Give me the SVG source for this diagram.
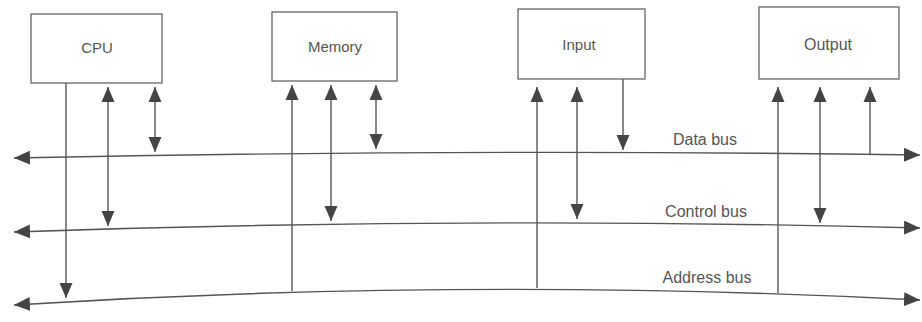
<svg xmlns="http://www.w3.org/2000/svg" width="922" height="322" viewBox="0 0 922 322">
<defs>
<marker id="ah" markerUnits="userSpaceOnUse" markerWidth="17" markerHeight="14" refX="16" refY="7" orient="auto-start-reverse" viewBox="0 0 17 14">
<path d="M0,0 L16,7 L0,14 z" fill="#444"/>
</marker>
<marker id="vh" markerUnits="userSpaceOnUse" markerWidth="15" markerHeight="14" refX="15" refY="6.5" orient="auto-start-reverse" viewBox="0 0 15 13">
<path d="M0,0 L15,6.5 L0,13 z" fill="#444"/>
</marker>
<style>
.box{fill:#fff;stroke:#666;stroke-width:1.3}
.lbl{font-family:"Liberation Sans",Arial,sans-serif;font-size:15px;fill:#555;text-anchor:middle}
.bl{font-family:"Liberation Sans",Arial,sans-serif;font-size:16px;fill:#555;text-anchor:middle}
.ln{stroke:#555;stroke-width:1.4;fill:none}
</style>
</defs>
<rect width="922" height="322" fill="#fff"/>
<g id="cpu"><rect class="box" x="31" y="14" width="131" height="69"/><text class="lbl" x="97" y="53">CPU</text></g>
<g id="memory"><rect class="box" x="272" y="12" width="125" height="69"/><text class="lbl" x="335" y="52">Memory</text></g>
<g id="input"><rect class="box" x="518" y="9" width="127" height="70"/><text class="lbl" x="579" y="50">Input</text></g>
<g id="output"><rect class="box" x="759" y="7" width="140" height="72"/><text class="bl" x="828" y="50">Output</text></g>
<g id="buses">
<path class="ln" d="M14,158 Q467,148.5 920,155" marker-start="url(#ah)" marker-end="url(#ah)"/>
<path class="ln" d="M14,232 Q467,216 920,228" marker-start="url(#ah)" marker-end="url(#ah)"/>
<path class="ln" d="M14,305 Q467,276.5 920,300" marker-start="url(#ah)" marker-end="url(#ah)"/>
<text class="bl" x="705" y="145">Data bus</text>
<text class="bl" x="706" y="217">Control bus</text>
<text class="bl" x="707" y="283">Address bus</text>
</g>
<g id="connectors">
<line class="ln" x1="66" y1="83" x2="66" y2="298" marker-end="url(#vh)"/>
<line class="ln" x1="108" y1="87" x2="108" y2="226" marker-start="url(#vh)" marker-end="url(#vh)"/>
<line class="ln" x1="155" y1="87" x2="155" y2="152" marker-start="url(#vh)" marker-end="url(#vh)"/>
<line class="ln" x1="292" y1="85" x2="292" y2="291" marker-start="url(#vh)"/>
<line class="ln" x1="331" y1="85" x2="331" y2="221" marker-start="url(#vh)" marker-end="url(#vh)"/>
<line class="ln" x1="376" y1="85" x2="376" y2="149" marker-start="url(#vh)" marker-end="url(#vh)"/>
<line class="ln" x1="537" y1="87" x2="537" y2="288" marker-start="url(#vh)"/>
<line class="ln" x1="577" y1="87" x2="577" y2="219" marker-start="url(#vh)" marker-end="url(#vh)"/>
<line class="ln" x1="623" y1="79" x2="623" y2="150" marker-end="url(#vh)"/>
<line class="ln" x1="778" y1="87" x2="778" y2="293" marker-start="url(#vh)"/>
<line class="ln" x1="820" y1="87" x2="820" y2="223" marker-start="url(#vh)" marker-end="url(#vh)"/>
<line class="ln" x1="870" y1="87" x2="870" y2="154" marker-start="url(#vh)"/>
</g>
</svg>
